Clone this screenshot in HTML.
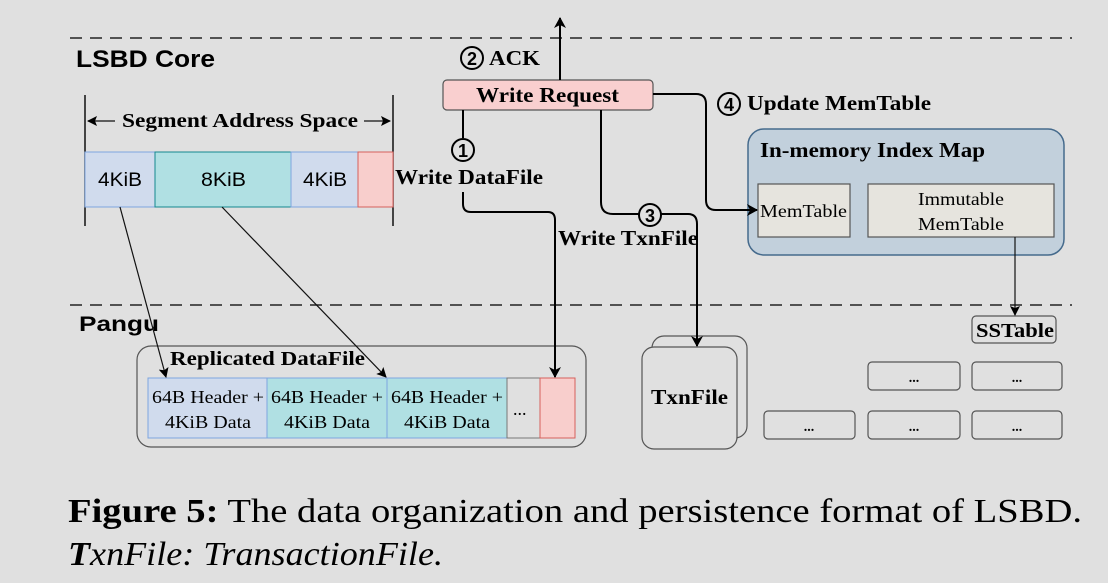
<!DOCTYPE html>
<html><head><style>
html,body{margin:0;padding:0;background:#e0e0e0;}
svg{display:block;}
.s{font-family:"Liberation Serif",serif;}
.b{font-weight:bold;}
</style></head><body>
<svg width="1108" height="583" viewBox="0 0 1108 583" xmlns="http://www.w3.org/2000/svg">
<defs>
<marker id="a" markerWidth="12" markerHeight="12" refX="10" refY="6" orient="auto" markerUnits="userSpaceOnUse"><path d="M0,0 L11,6 L0,12 L3,6 Z" fill="#000"/></marker>
<marker id="s" markerWidth="10" markerHeight="10" refX="9" refY="5" orient="auto" markerUnits="userSpaceOnUse"><path d="M0,0 L10,5 L0,10 L2,5 Z" fill="#000"/></marker>
</defs>
<rect width="1108" height="583" fill="#e0e0e0"/>
<line x1="70" y1="38" x2="1072" y2="38" stroke="#222" stroke-width="1.5" stroke-dasharray="12,8"/>
<line x1="70" y1="305" x2="1072" y2="305" stroke="#222" stroke-width="1.5" stroke-dasharray="12,8"/>
<text x="76" y="67" font-family="Liberation Sans,sans-serif" font-weight="bold" font-size="24" textLength="139" lengthAdjust="spacingAndGlyphs">LSBD Core</text>
<text x="79" y="331" font-family="Liberation Sans,sans-serif" font-weight="bold" font-size="21" textLength="80" lengthAdjust="spacingAndGlyphs">Pangu</text>

<!-- segment address space -->
<line x1="85" y1="95" x2="85" y2="226" stroke="#111" stroke-width="1.5"/>
<line x1="393" y1="95" x2="393" y2="226" stroke="#111" stroke-width="1.5"/>
<line x1="115" y1="121" x2="88" y2="121" stroke="#111" stroke-width="1.2" marker-end="url(#s)"/>
<line x1="364" y1="121" x2="390" y2="121" stroke="#111" stroke-width="1.2" marker-end="url(#s)"/>
<text x="122" y="127" class="s b" font-size="20" textLength="236" lengthAdjust="spacingAndGlyphs">Segment Address Space</text>
<rect x="85" y="152" width="70" height="55" fill="#d0dbed" stroke="#7ea6e0"/>
<rect x="155" y="152" width="136" height="55" fill="#b0e0e3" stroke="#14898f"/>
<rect x="291" y="152" width="67" height="55" fill="#d0dbed" stroke="#7ea6e0"/>
<rect x="358" y="152" width="35" height="55" fill="#f8cecc" stroke="#d6605b"/>
<g font-family="Liberation Sans,sans-serif" font-size="19">
<text x="98" y="186" textLength="44" lengthAdjust="spacingAndGlyphs">4KiB</text>
<text x="201" y="186" textLength="45" lengthAdjust="spacingAndGlyphs">8KiB</text>
<text x="303" y="186" textLength="44" lengthAdjust="spacingAndGlyphs">4KiB</text></g>

<!-- index map -->
<rect x="748" y="129" width="316" height="126" rx="16" fill="#c2d0dc" stroke="#456a8c" stroke-width="1.5"/>
<text x="760" y="157" class="s b" font-size="21" textLength="225" lengthAdjust="spacingAndGlyphs">In-memory Index Map</text>
<rect x="758" y="184" width="92" height="53" fill="#e6e4de" stroke="#555" stroke-width="1.2"/>
<text x="760" y="217" class="s" font-size="18" textLength="87" lengthAdjust="spacingAndGlyphs">MemTable</text>
<rect x="868" y="184" width="186" height="53" fill="#e6e4de" stroke="#555" stroke-width="1.2"/>
<text x="918" y="205" class="s" font-size="18" textLength="86" lengthAdjust="spacingAndGlyphs">Immutable</text>
<text x="918" y="230" class="s" font-size="18" textLength="86" lengthAdjust="spacingAndGlyphs">MemTable</text>
<rect x="972" y="316" width="84" height="27" rx="4" fill="#e0e0e0" stroke="#555" stroke-width="1.2"/>
<text x="976" y="337" class="s b" font-size="20" textLength="78" lengthAdjust="spacingAndGlyphs">SSTable</text>

<!-- small boxes -->
<g fill="#e0e0e0" stroke="#555" stroke-width="1.2">
<rect x="868" y="362" width="92" height="28" rx="4"/><rect x="972" y="362" width="90" height="28" rx="4"/>
<rect x="764" y="411" width="91" height="28" rx="4"/><rect x="868" y="411" width="92" height="28" rx="4"/><rect x="972" y="411" width="90" height="28" rx="4"/>
</g>
<g class="s b" font-size="14" text-anchor="middle">
<text x="914" y="382">...</text><text x="1017" y="382">...</text>
<text x="809" y="431">...</text><text x="914" y="431">...</text><text x="1017" y="431">...</text></g>

<!-- txnfile -->
<rect x="652" y="336" width="95" height="102" rx="12" fill="#e0e0e0" stroke="#555" stroke-width="1.2"/>
<rect x="642" y="347" width="95" height="102" rx="12" fill="#e0e0e0" stroke="#555" stroke-width="1.2"/>
<text x="651" y="404" class="s b" font-size="21" textLength="77" lengthAdjust="spacingAndGlyphs">TxnFile</text>

<!-- replicated datafile -->
<rect x="137" y="346" width="449" height="101" rx="14" fill="#e0e0e0" stroke="#555" stroke-width="1.2"/>
<rect x="148" y="378" width="119" height="60" fill="#d0dbed" stroke="#7ea6e0"/>
<rect x="267" y="378" width="120" height="60" fill="#b0e0e3" stroke="#7ea6e0"/>
<rect x="387" y="378" width="120" height="60" fill="#b0e0e3" stroke="#7ea6e0"/>
<rect x="507" y="378" width="33" height="60" fill="#e0e0e0" stroke="#777"/>
<rect x="540" y="378" width="35" height="60" fill="#f8cecc" stroke="#d6605b"/>
<text x="170" y="365" class="s b" font-size="20" textLength="195" lengthAdjust="spacingAndGlyphs">Replicated DataFile</text>
<g class="s" font-size="18">
<text x="152" y="403" textLength="112" lengthAdjust="spacingAndGlyphs">64B Header +</text><text x="165" y="428" textLength="86" lengthAdjust="spacingAndGlyphs">4KiB Data</text>
<text x="271" y="403" textLength="112" lengthAdjust="spacingAndGlyphs">64B Header +</text><text x="284" y="428" textLength="86" lengthAdjust="spacingAndGlyphs">4KiB Data</text>
<text x="391" y="403" textLength="112" lengthAdjust="spacingAndGlyphs">64B Header +</text><text x="404" y="428" textLength="86" lengthAdjust="spacingAndGlyphs">4KiB Data</text>
<text x="513" y="415">...</text></g>

<!-- write request -->
<rect x="443" y="80" width="210" height="30" rx="4" fill="#f9cfcf" stroke="#555" stroke-width="1.2"/>
<text x="476" y="102" class="s b" font-size="21" textLength="143" lengthAdjust="spacingAndGlyphs">Write Request</text>
<line x1="560" y1="80" x2="560" y2="18" stroke="#000" stroke-width="2" marker-end="url(#a)"/>
<circle cx="472" cy="58" r="11" fill="none" stroke="#000" stroke-width="2"/>
<text x="472" y="65" font-family="Liberation Sans,sans-serif" font-weight="bold" font-size="18" text-anchor="middle">2</text>
<text x="489" y="65" class="s b" font-size="21" textLength="51" lengthAdjust="spacingAndGlyphs">ACK</text>

<!-- write datafile -->
<line x1="463" y1="110" x2="463" y2="138" stroke="#000" stroke-width="2"/>
<circle cx="463" cy="150" r="11" fill="none" stroke="#000" stroke-width="2"/>
<text x="463" y="157" font-family="Liberation Sans,sans-serif" font-weight="bold" font-size="18" text-anchor="middle">1</text>
<text x="395" y="184" class="s b" font-size="21" textLength="148" lengthAdjust="spacingAndGlyphs">Write DataFile</text>
<path d="M463,192 V204 Q463,212 471,212 H548 Q555,212 555,220 V377" fill="none" stroke="#000" stroke-width="2" marker-end="url(#a)"/>
<text x="558" y="245" class="s b" font-size="21" textLength="140" lengthAdjust="spacingAndGlyphs">Write TxnFile</text>

<!-- write txnfile -->
<path d="M601,110 V202 Q601,214 613,214 H688 Q697,214 697,224 V346" fill="none" stroke="#000" stroke-width="2" marker-end="url(#a)"/>
<circle cx="650" cy="215" r="11" fill="#e0e0e0" stroke="#000" stroke-width="2"/>
<text x="650" y="222" font-family="Liberation Sans,sans-serif" font-weight="bold" font-size="18" text-anchor="middle">3</text>

<!-- update memtable -->
<path d="M653,94 H696 Q706,94 706,104 V200 Q706,210 716,210 H757" fill="none" stroke="#000" stroke-width="2" marker-end="url(#a)"/>
<circle cx="729" cy="104" r="11" fill="none" stroke="#000" stroke-width="2"/>
<text x="729" y="111" font-family="Liberation Sans,sans-serif" font-weight="bold" font-size="18" text-anchor="middle">4</text>
<text x="747" y="110" class="s b" font-size="21" textLength="184" lengthAdjust="spacingAndGlyphs">Update MemTable</text>

<line x1="1015" y1="237" x2="1015" y2="315" stroke="#111" stroke-width="1.2" marker-end="url(#s)"/>
<line x1="120" y1="207" x2="166" y2="377" stroke="#111" stroke-width="1.2" marker-end="url(#s)"/>
<line x1="222" y1="207" x2="386" y2="377" stroke="#111" stroke-width="1.2" marker-end="url(#s)"/>

<!-- caption -->
<text x="68" y="522" class="s" font-size="34" textLength="1014" lengthAdjust="spacingAndGlyphs"><tspan font-weight="bold">Figure 5:</tspan> The data organization and persistence format of LSBD.</text>
<text x="68" y="565" class="s" font-size="34" font-style="italic" textLength="375" lengthAdjust="spacingAndGlyphs"><tspan font-weight="bold">T</tspan>xnFile: TransactionFile.</text>
</svg>
</body></html>
